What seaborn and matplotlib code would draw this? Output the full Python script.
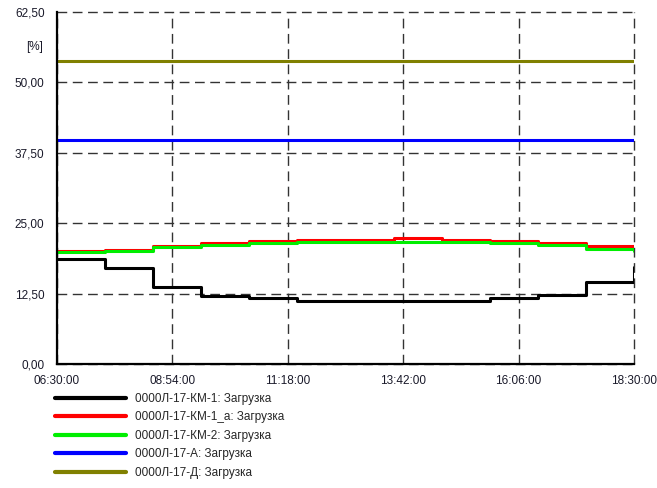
import pandas as pd
import matplotlib.pyplot as plt
import matplotlib.transforms as mtransforms
from matplotlib.lines import Line2D
import seaborn as sns

# hourly samples, step-post
times = ["06:30", "07:30", "08:30", "09:30", "10:30", "11:30", "12:30",
         "13:30", "14:30", "15:30", "16:30", "17:30", "18:30"]
km1 = [18.6, 17.0, 13.7, 12.0, 11.7, 11.2, 11.2, 11.2, 11.2, 11.7, 12.3, 14.5, 17.3]
km1a = [20.0, 20.3, 21.0, 21.5, 21.8, 22.0, 22.0, 22.3, 22.0, 21.8, 21.4, 21.0, 21.0]
km2 = [19.8, 20.1, 20.8, 21.2, 21.5, 21.7, 21.7, 21.7, 21.7, 21.4, 21.2, 20.5, 20.1]
ser_a = [39.8, 39.8, 39.8, 39.8, 39.8, 39.8, 39.8, 39.8, 39.8, 39.8, 39.8, 39.8, 39.8]
ser_d = [53.8, 53.8, 53.8, 53.8, 53.8, 53.8, 53.8, 53.8, 53.8, 53.8, 53.8, 53.8, 53.8]

names = ["0000Л-17-КМ-1: Загрузка", "0000Л-17-КМ-1_а: Загрузка",
         "0000Л-17-КМ-2: Загрузка", "0000Л-17-А: Загрузка", "0000Л-17-Д: Загрузка"]
colors = ["#000000", "#ff0000", "#00ee00", "#0000ff", "#808000"]

x_ticks = ["06:30:00", "08:54:00", "11:18:00", "13:42:00", "16:06:00", "18:30:00"]
y_ticks = [0, 12.5, 25, 37.5, 50, 62.5]
y_labels = ["0,00", "12,50", "25,00", "37,50", "50,00", "62,50"]

day = "2020-01-01 "
t = pd.to_datetime([day + s for s in times])
frames = []
for name, vals in zip(names, [km1, km1a, km2, ser_a, ser_d]):
    frames.append(pd.DataFrame({"time": t, "value": vals, "series": name}))
df = pd.concat(frames, ignore_index=True)

sns.set_style("white")
plt.rcParams["font.family"] = ["Liberation Sans", "DejaVu Sans"]

fig = plt.figure(figsize=(6.57, 4.88), dpi=100)
ax = fig.add_axes([57 / 657, 1 - 364 / 488, 577 / 657, 352 / 488])

sns.lineplot(data=df, x="time", y="value", hue="series", hue_order=names,
             palette=dict(zip(names, colors)), drawstyle="steps-post",
             linewidth=2.2, legend=False, ax=ax, sort=False)

xt = pd.to_datetime([day + s for s in x_ticks])
ax.set_xlim(xt[0], xt[-1])
ax.set_ylim(0, 62.5)
ax.set_xticks(xt)
ax.set_xticklabels(x_ticks)
ax.set_xticks(xt[:-1] + pd.Timedelta(minutes=72), minor=True)
ax.set_yticks(y_ticks)
ax.set_yticklabels(y_labels)
ax.set_yticks([6.25, 18.75, 31.25, 43.75, 56.25], minor=True)
ax.set_xlabel("")
ax.set_ylabel("")

ax.grid(which="major", linestyle=(0, (7, 4)), color="#333333", linewidth=1)
for gl in ax.get_xgridlines() + ax.get_ygridlines():
    gl.set_clip_on(False)

for side in ["top", "right"]:
    ax.spines[side].set_visible(False)
for side in ["left", "bottom"]:
    ax.spines[side].set_linewidth(1.6)
    ax.spines[side].set_color("black")

ax.tick_params(which="both", direction="in", length=4, width=1, color="black")
ax.tick_params(axis="y", labelsize=8.5, pad=9, labelcolor="#1a1a2a")
ax.tick_params(axis="x", labelsize=8.5, pad=8, labelcolor="#1a1a2a")

trans = mtransforms.blended_transform_factory(ax.transAxes, ax.transData)
ax.text(-0.025, 56.25, "[%]", transform=trans, ha="right", va="center",
        fontsize=8.5, color="#1a1a2a")

handles = [Line2D([], [], color=c, linewidth=3) for c in colors]
fig.legend(handles, names, loc="upper left", bbox_to_anchor=(55 / 657, 1 - 393 / 488),
           frameon=False, fontsize=8.5, handlelength=6.0, handletextpad=0.75,
           labelspacing=0.55, borderpad=0, borderaxespad=0)

fig.savefig("out.png", dpi=100)
